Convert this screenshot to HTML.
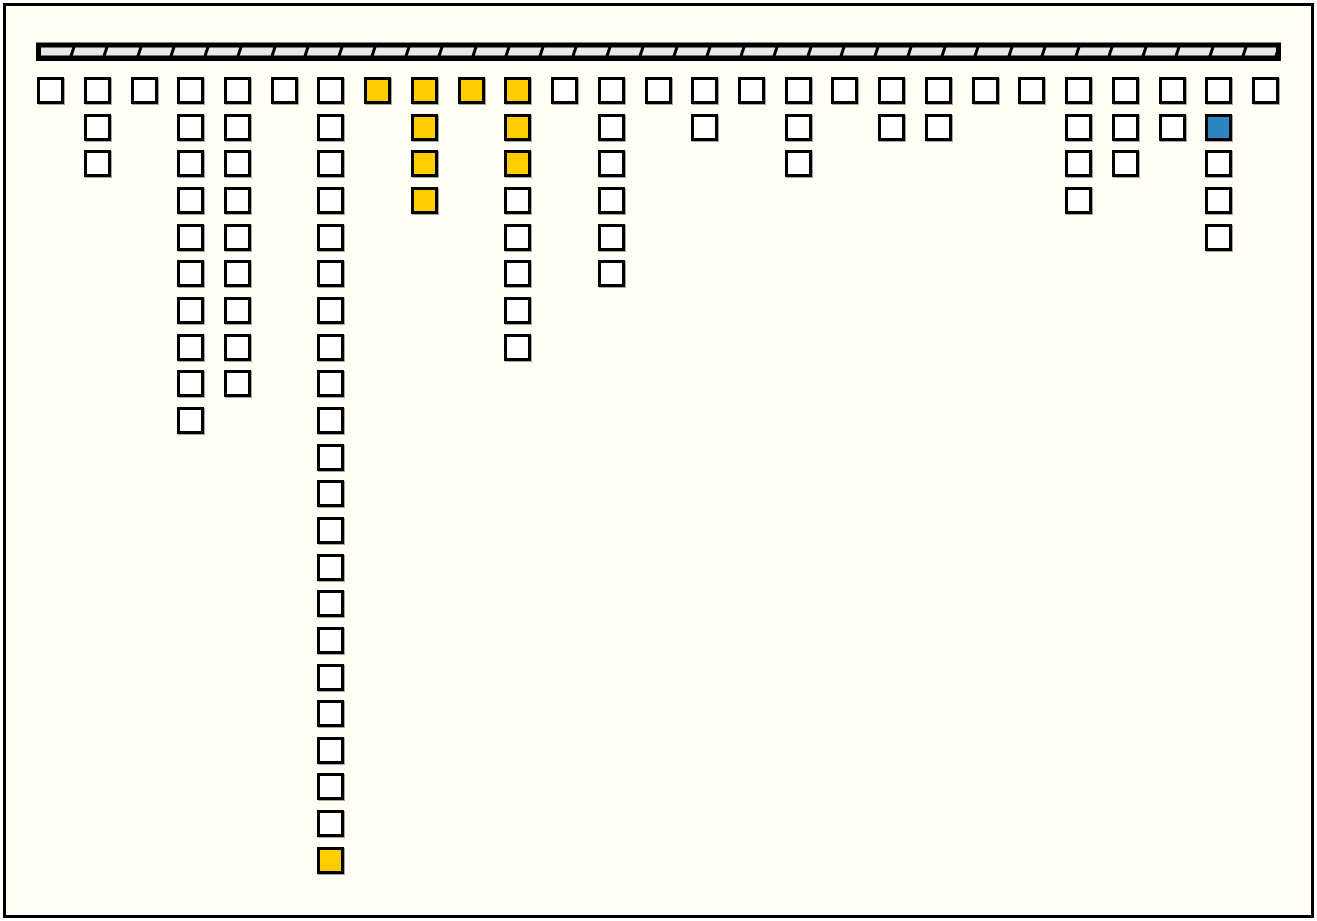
<!DOCTYPE html>
<html><head><style>
html,body{margin:0;padding:0;width:1317px;height:921px;background:#fff;overflow:hidden}
#frame{position:absolute;left:3px;top:3px;width:1311px;height:915px;box-sizing:border-box;border:3.5px solid #000;background:#fffff6}
.c{position:absolute;top:77px;display:flex;flex-direction:column;gap:9.67px}
.s{width:27px;height:27px;box-sizing:border-box;border:3px solid #000;background:#fff;box-shadow:1px 1px 0 rgba(0,0,0,.35)}
.y{background:#ffcc00;border-width:3.5px}
.b{background:#2e86c1;border-width:3.5px}
svg{position:absolute;left:0;top:0}
</style></head><body>
<div id="frame"></div>
<svg width="1317" height="921">
<rect x="38.5" y="45" width="1240" height="13" fill="#e8e8e8" stroke="#000" stroke-width="5"/>
<rect x="36" y="56" width="1245" height="5" fill="#000"/>
<g stroke="#000" stroke-width="3">
<line x1="74" y1="47" x2="71" y2="56"/><line x1="107" y1="47" x2="104" y2="56"/><line x1="141" y1="47" x2="138" y2="56"/><line x1="174" y1="47" x2="171" y2="56"/><line x1="208" y1="47" x2="205" y2="56"/><line x1="241" y1="47" x2="238" y2="56"/><line x1="275" y1="47" x2="272" y2="56"/><line x1="308" y1="47" x2="305" y2="56"/><line x1="342" y1="47" x2="339" y2="56"/><line x1="375" y1="47" x2="372" y2="56"/><line x1="409" y1="47" x2="406" y2="56"/><line x1="442" y1="47" x2="439" y2="56"/><line x1="476" y1="47" x2="473" y2="56"/><line x1="509" y1="47" x2="506" y2="56"/><line x1="543" y1="47" x2="540" y2="56"/><line x1="576" y1="47" x2="573" y2="56"/><line x1="610" y1="47" x2="607" y2="56"/><line x1="643" y1="47" x2="640" y2="56"/><line x1="677" y1="47" x2="674" y2="56"/><line x1="710" y1="47" x2="707" y2="56"/><line x1="744" y1="47" x2="741" y2="56"/><line x1="777" y1="47" x2="774" y2="56"/><line x1="811" y1="47" x2="808" y2="56"/><line x1="844" y1="47" x2="841" y2="56"/><line x1="878" y1="47" x2="875" y2="56"/><line x1="911" y1="47" x2="908" y2="56"/><line x1="945" y1="47" x2="942" y2="56"/><line x1="978" y1="47" x2="975" y2="56"/><line x1="1012" y1="47" x2="1009" y2="56"/><line x1="1045" y1="47" x2="1042" y2="56"/><line x1="1079" y1="47" x2="1076" y2="56"/><line x1="1112" y1="47" x2="1109" y2="56"/><line x1="1146" y1="47" x2="1143" y2="56"/><line x1="1179" y1="47" x2="1176" y2="56"/><line x1="1213" y1="47" x2="1210" y2="56"/><line x1="1246" y1="47" x2="1243" y2="56"/><line x1="1279" y1="47" x2="1276" y2="56"/>
</g>
</svg>
<div class="c" style="left:37px"><div class="s"></div></div>
<div class="c" style="left:83.7px"><div class="s"></div><div class="s"></div><div class="s"></div></div>
<div class="c" style="left:130.5px"><div class="s"></div></div>
<div class="c" style="left:177.2px"><div class="s"></div><div class="s"></div><div class="s"></div><div class="s"></div><div class="s"></div><div class="s"></div><div class="s"></div><div class="s"></div><div class="s"></div><div class="s"></div></div>
<div class="c" style="left:223.9px"><div class="s"></div><div class="s"></div><div class="s"></div><div class="s"></div><div class="s"></div><div class="s"></div><div class="s"></div><div class="s"></div><div class="s"></div></div>
<div class="c" style="left:270.7px"><div class="s"></div></div>
<div class="c" style="left:317.4px"><div class="s"></div><div class="s"></div><div class="s"></div><div class="s"></div><div class="s"></div><div class="s"></div><div class="s"></div><div class="s"></div><div class="s"></div><div class="s"></div><div class="s"></div><div class="s"></div><div class="s"></div><div class="s"></div><div class="s"></div><div class="s"></div><div class="s"></div><div class="s"></div><div class="s"></div><div class="s"></div><div class="s"></div><div class="s y"></div></div>
<div class="c" style="left:364.1px"><div class="s y"></div></div>
<div class="c" style="left:410.8px"><div class="s y"></div><div class="s y"></div><div class="s y"></div><div class="s y"></div></div>
<div class="c" style="left:457.6px"><div class="s y"></div></div>
<div class="c" style="left:504.3px"><div class="s y"></div><div class="s y"></div><div class="s y"></div><div class="s"></div><div class="s"></div><div class="s"></div><div class="s"></div><div class="s"></div></div>
<div class="c" style="left:551px"><div class="s"></div></div>
<div class="c" style="left:597.8px"><div class="s"></div><div class="s"></div><div class="s"></div><div class="s"></div><div class="s"></div><div class="s"></div></div>
<div class="c" style="left:644.5px"><div class="s"></div></div>
<div class="c" style="left:691.2px"><div class="s"></div><div class="s"></div></div>
<div class="c" style="left:738px"><div class="s"></div></div>
<div class="c" style="left:784.7px"><div class="s"></div><div class="s"></div><div class="s"></div></div>
<div class="c" style="left:831.4px"><div class="s"></div></div>
<div class="c" style="left:878.1px"><div class="s"></div><div class="s"></div></div>
<div class="c" style="left:924.9px"><div class="s"></div><div class="s"></div></div>
<div class="c" style="left:971.6px"><div class="s"></div></div>
<div class="c" style="left:1018.3px"><div class="s"></div></div>
<div class="c" style="left:1065.1px"><div class="s"></div><div class="s"></div><div class="s"></div><div class="s"></div></div>
<div class="c" style="left:1111.8px"><div class="s"></div><div class="s"></div><div class="s"></div></div>
<div class="c" style="left:1158.5px"><div class="s"></div><div class="s"></div></div>
<div class="c" style="left:1205.3px"><div class="s"></div><div class="s b"></div><div class="s"></div><div class="s"></div><div class="s"></div></div>
<div class="c" style="left:1252px"><div class="s"></div></div>
</body></html>
